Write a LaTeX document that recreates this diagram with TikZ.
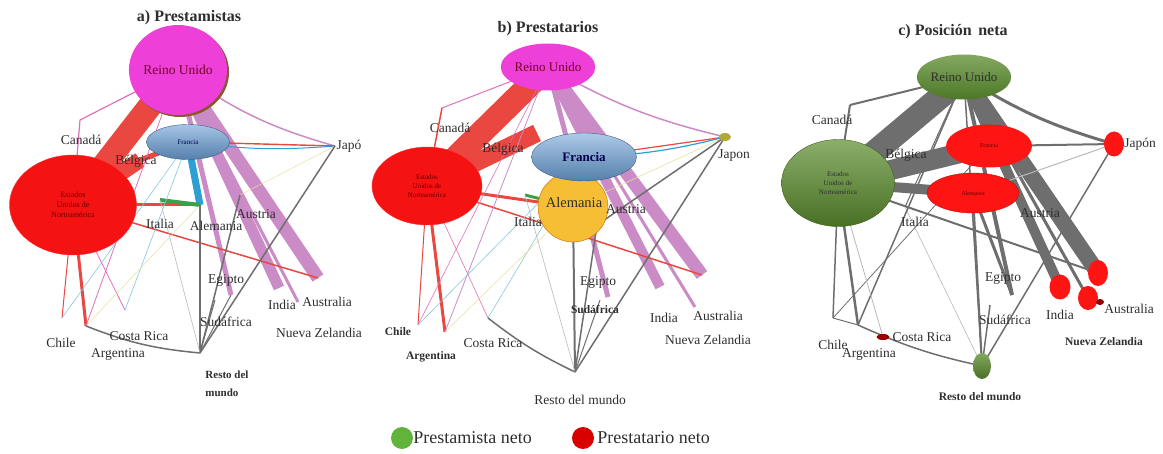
\documentclass[tikz,border=0pt]{standalone}
\usepackage{fontspec}
\setmainfont{Liberation Serif}
\usetikzlibrary{positioning,shapes.geometric,backgrounds,shadows}

\definecolor{ukmag}{HTML}{EE40D8}
\definecolor{usred}{HTML}{F41212}
\definecolor{frblue}{HTML}{6A9FD6}
\definecolor{deorange}{HTML}{F5BE35}
\definecolor{netgreen}{HTML}{5A8C2C}
\definecolor{netred}{HTML}{FF1414}
\definecolor{lred}{HTML}{E9473F}
\definecolor{mauve}{HTML}{CB8BC6}
\definecolor{lblue}{HTML}{2E9FD2}
\definecolor{lgray}{HTML}{6E6E6E}
\definecolor{pgray}{HTML}{B8B8B8}
\definecolor{lpink}{HTML}{E070B8}
\definecolor{lcyan}{HTML}{84C8E2}
\definecolor{lyel}{HTML}{E6DE9C}
\definecolor{lgreen}{HTML}{3BA04A}
\definecolor{txt}{HTML}{2E2E2E}

\begin{document}
\begin{tikzpicture}[x=1pt, y=-1pt, line cap=round]
  \tikzset{
    country/.style={ellipse, inner sep=0pt, align=center},
    lbl/.style={font=\fontsize{13.5}{14}\selectfont, text=txt, inner sep=1pt},
    blbl/.style={font=\bfseries\fontsize{11.5}{12}\selectfont, text=txt, inner sep=1pt},
    ttl/.style={font=\bfseries\fontsize{16}{16}\selectfont, text=txt},
    small/.style={font=\fontsize{7}{7.5}\selectfont}
  }
  \useasboundingbox (0,0) rectangle (1163,454);

  % a) Prestamistas
  \node[ttl] (aT) at (189,18) {a) Prestamistas};
  \node[country, fill=ukmag, minimum size=90pt,
        drop shadow={fill=brown!70!black, shadow xshift=2pt, shadow yshift=-2pt, opacity=1},
        font=\fontsize{13.5}{13.5}\selectfont, text=purple!60!black] (aUK) at (178,70) {Reino Unido};
  \node[country, top color=frblue!60!white, bottom color=frblue!80!black, draw=frblue!60!black,
        minimum width=83pt, minimum height=35pt, small, text=blue!30!black] (aFR) at (188,142) {Francia};
  \node[country, fill=usred, draw=red!80!white, minimum width=127pt, minimum height=100pt,
        font=\fontsize{8}{10}\selectfont, text=red!40!black] (aUS) at (73,205) {Estados\\Unidos de\\Norteamérica};
  \coordinate (aCA) at (80,120);
  \coordinate (aBE) at (140,160);
  \coordinate (aJP) at (335,146);
  \coordinate (aIT) at (160,200);
  \coordinate (aDE) at (200,205);
  \coordinate (aAT) at (240,195);
  \coordinate (aEG) at (231,295);
  \coordinate (aIN) at (279,288);
  \coordinate (aAU) at (318,278);
  \coordinate (aNZ) at (298,302);
  \coordinate (aZA) at (215,300);
  \coordinate (aCL) at (62,318);
  \coordinate (aAR) at (86,326);
  \coordinate (aCR) at (125,310);
  \coordinate (aRW) at (200,353);
  \node[lbl] (aCAl) at (81,140) {Canadá};
  \node[lbl] (aBEl) at (136,161) {Bélgica};
  \node[lbl] (aJPl) at (349,146) {Japó};
  \node[lbl] (aITl) at (160,224) {Italia};
  \node[lbl] (aDEl) at (216,226) {Alemania};
  \node[lbl] (aATl) at (256,214) {Austria};
  \node[lbl] (aEGl) at (226,280) {Egipto};
  \node[lbl] (aINl) at (282,305) {India};
  \node[lbl] (aAUl) at (327,302) {Australia};
  \node[lbl] (aZAl) at (226,322) {Sudáfrica};
  \node[lbl] (aNZl) at (319,333) {Nueva Zelandia};
  \node[lbl] (aCLl) at (61,343) {Chile};
  \node[lbl] (aCRl) at (139,336) {Costa Rica};
  \node[lbl] (aARl) at (118,354) {Argentina};
  \node[lbl, align=left, font=\bfseries\fontsize{11}{18}\selectfont] (aRWl) at (227,384) {Resto del\\mundo};

  % b) Prestatarios
  \node[ttl] (bT) at (548,29) {b) Prestatarios};
  \node[country, fill=ukmag, minimum width=82pt, minimum height=47pt,
        font=\fontsize{13}{13}\selectfont, text=purple!60!black] (bUK) at (548,67) {Reino Unido};
  \node[country, fill=deorange, draw=orange!80!black, minimum size=70pt,
        font=\fontsize{14}{14}\selectfont, text=txt] (bDE) at (573,207) {};
  \node[country, top color=frblue!55!white, bottom color=frblue!80!black, draw=frblue!60!black,
        minimum width=105pt, minimum height=48pt, font=\bfseries\fontsize{13}{13}\selectfont,
        text=blue!30!black] (bFR) at (584,157) {Francia};
  \node[country, fill=usred, draw=red!80!white, minimum width=110pt, minimum height=78pt,
        font=\fontsize{7}{9}\selectfont, text=red!40!black] (bUS) at (427,186) {Estados\\Unidos de\\Norteamérica};
  \node[country, fill=olive!70!white, minimum width=12pt, minimum height=8pt] (bJP) at (725,137) {};
  \coordinate (bCA) at (442,108);
  \coordinate (bBE) at (537,133);
  \coordinate (bIT) at (525,195);
  \coordinate (bAT) at (597,225);
  \coordinate (bEG) at (608,297);
  \coordinate (bIN) at (660,287);
  \coordinate (bAU) at (702,275);
  \coordinate (bNZ) at (695,307);
  \coordinate (bZA) at (600,300);
  \coordinate (bCL) at (418,325);
  \coordinate (bAR) at (445,332);
  \coordinate (bCR) at (488,318);
  \coordinate (bRW) at (575,372);
  \node[lbl] (bCAl) at (450,128) {Canadá};
  \node[lbl] (bBEl) at (503,149) {Bélgica};
  \node[lbl, font=\fontsize{14.5}{15}\selectfont] (bDEl) at (574,203) {Alemania};
  \node[lbl] (bJPl) at (734,156) {Japon};
  \node[lbl] (bITl) at (528,222) {Italia};
  \node[lbl] (bATl) at (626,209) {Austria};
  \node[lbl] (bEGl) at (598,282) {Egipto};
  \node[blbl] (bZAl) at (595,310) {Sudáfrica};
  \node[lbl] (bINl) at (664,318) {India};
  \node[lbl] (bAUl) at (718,316) {Australia};
  \node[lbl] (bNZl) at (708,340) {Nueva Zelandia};
  \node[blbl] (bCLl) at (398,332) {Chile};
  \node[lbl] (bCRl) at (493,343) {Costa Rica};
  \node[blbl] (bARl) at (431,357) {Argentina};
  \node[lbl] (bRWl) at (580,400) {Resto del mundo};

  % c) Posicion neta
  \node[ttl] (cT) at (953,32) {c) Posición\, neta};
  \node[country, top color=netgreen!75!white, bottom color=netgreen!85!black, minimum width=85pt,
        minimum height=45pt, font=\fontsize{13}{13}\selectfont, text=txt] (cUK) at (964,77) {Reino Unido};
  \node[country, fill=netred, minimum width=86pt, minimum height=43pt, font=\fontsize{6}{6}\selectfont,
        text=red!40!black] (cFR) at (989,146) {Francia};
  \node[country, fill=netred, draw=netred!70!black, minimum width=92pt, minimum height=40pt,
        font=\fontsize{6}{6}\selectfont, text=red!40!black] (cDE) at (973,193) {Alemania};
  \node[country, top color=netgreen!70!white, bottom color=netgreen!80!black, draw=netgreen!70!black,
        minimum width=113pt, minimum height=87pt, font=\fontsize{7}{9}\selectfont, text=txt] (cUS) at (838,183) {Estados\\Unidos de\\Norteamérica};
  \node[country, fill=netred, minimum width=20pt, minimum height=25pt] (cJP) at (1114,144) {};
  \node[country, fill=netred, minimum width=21pt, minimum height=25pt] (cIN) at (1060,287) {};
  \node[country, fill=netred, minimum width=20pt, minimum height=26pt] (cAU) at (1098,273) {};
  \node[country, fill=netred, minimum width=20pt, minimum height=24pt] (cNZ) at (1088,298) {};
  \node[country, fill=red!55!black, minimum width=8pt, minimum height=6pt] (cAUs) at (1100,302) {};
  \node[country, fill=red!60!black, minimum width=13pt, minimum height=6pt] (cCR) at (883,337) {};
  \node[country, top color=netgreen!75!white, bottom color=netgreen!80!black, minimum width=18pt,
        minimum height=26pt] (cRW) at (982,366) {};
  \coordinate (cCA) at (850,105);
  \coordinate (cIT) at (905,207);
  \coordinate (cAT) at (1040,232);
  \coordinate (cEG) at (1012,295);
  \coordinate (cZA) at (990,305);
  \coordinate (cCL) at (833,318);
  \coordinate (cAR) at (858,325);
  \node[lbl] (cCAl) at (832,120) {Canadá};
  \node[lbl] (cBEl) at (906,155) {Bélgica};
  \node[lbl] (cJPl) at (1140,144) {Japón};
  \node[lbl] (cITl) at (915,222) {Italia};
  \node[lbl] (cATl) at (1040,213) {Austria};
  \node[lbl] (cEGl) at (1003,278) {Egipto};
  \node[lbl] (cZAl) at (1005,320) {Sudáfrica};
  \node[lbl] (cINl) at (1060,315) {India};
  \node[lbl] (cAUl) at (1129,309) {Australia};
  \node[blbl] (cNZl) at (1104,342) {Nueva Zelandia};
  \node[lbl] (cCLl) at (833,345) {Chile};
  \node[lbl] (cCRl) at (922,337) {Costa Rica};
  \node[lbl] (cARl) at (869,354) {Argentina};
  \node[blbl] (cRWl) at (980,397) {Resto del mundo};

  % leyenda
  \node[circle, fill=lgreen!80!yellow, minimum size=22pt, inner sep=0pt] (lgG) at (402,438) {};
  \node[right=0pt of lgG, font=\fontsize{18}{18}\selectfont, text=txt, inner sep=0pt] (lgGt) {Prestamista neto};
  \node[circle, fill=red!85!black, minimum size=22pt, inner sep=0pt] (lgR) at (583,438) {};
  \node[right=3pt of lgR, font=\fontsize{18}{18}\selectfont, text=txt, inner sep=0pt] (lgRt) {Prestatario neto};

  \begin{scope}[on background layer]
    \foreach \f/\t/\w/\c/\b in {
      aUS/aUK/24/lred/0, aUS/aBE/16/lred/0, aBE/aFR/5/lred/0,
      aUK/aAU/13/mauve/0, aUK/aIN/11/mauve/0, aUK/aEG/5/mauve/0, aUK/aNZ/3/mauve/0,
      aUK/aJP/1.5/mauve/-10, aUK/aCA/1.2/lpink/0, aCA/aUS/1.2/lpink/0,
      aFR/aDE/7/lblue/0, aUS/aDE/3/lred/0, aUS/aAU/1.5/lred/0,
      aFR/aJP/1.4/lred/0, aFR/aJP/1/lblue/-6, aIT/aDE/4/lgreen/0,
      aUS/aCL/1/lred/0, aUS/aAR/3/lred/0, aCL/aFR/0.6/lcyan/0, aAR/aUK/0.8/lpink/0,
      aCR/aUS/0.8/lpink/0, aCR/aFR/0.6/lcyan/0, aAR/aDE/0.5/lyel/0, aJP/aAT/0.5/lyel/0,
      aRW/aDE/2/lgray/0, aRW/aAT/1.5/lgray/0, aRW/aJP/1.5/lgray/0, aRW/aAR/1.5/lgray/8,
      aRW/aIT/0.6/pgray/0, aRW/aZA/1/lgray/0, aRW/aEG/1/lgray/0,
      bUS/bUK/24/lred/0, bUS/bBE/18/lred/0,
      bUK/bAU/13/mauve/0, bUK/bIN/10/mauve/0, bUK/bEG/5/mauve/0, bUK/bNZ/3/mauve/0,
      bUK/bJP/1.5/mauve/-8, bUK/bCA/1/lpink/0, bCA/bUS/1.5/lred/0,
      bUS/bDE/3/lred/0, bUS/bAU/1.5/lred/0, bFR/bJP/1.2/lred/0, bFR/bJP/1.2/lblue/-6,
      bDE/bJP/0.6/lyel/0, bIT/bDE/3/lgreen/0,
      bUS/bCL/1/lred/0, bUS/bAR/3/lred/0, bCL/bUK/0.6/lpink/0, bAR/bUK/0.8/mauve/0,
      bCR/bUS/0.6/lpink/0, bCR/bFR/0.6/lcyan/0, bCL/bFR/0.6/lcyan/0, bAR/bDE/0.5/lyel/0,
      bRW/bDE/2/lgray/0, bRW/bAT/1.5/lgray/0, bRW/bJP/1.5/lgray/0, bRW/bCR/1.5/lgray/6,
      bRW/bIT/0.6/pgray/0, bRW/bZA/1/lgray/0, bJP/bAT/1.5/lgray/0,
      cUS/cUK/24/lgray/0, cUS/cFR/20/lgray/0, cUK/cAU/16/lgray/0, cUK/cIN/10/lgray/0,
      cUK/cNZ/3/lgray/0, cUK/cJP/3/lgray/-8, cUK/cCA/2/lgray/0, cCA/cUS/2/lgray/0,
      cFR/cJP/2/lgray/0, cDE/cJP/1/pgray/0, cUS/cDE/10/lgray/0, cUS/cAU/2/lgray/0,
      cUK/cEG/4/lgray/0, cDE/cEG/3/lgray/0, cRW/cJP/1.5/lgray/0,
      cRW/cDE/2/lgray/0, cRW/cUK/1.5/lgray/0, cRW/cAR/1.5/lgray/6, cRW/cIT/0.6/pgray/0,
      cRW/cZA/1.5/lgray/0, cUS/cCL/1.5/lgray/0, cUS/cAR/2.5/lgray/0, cCL/cFR/0.8/lgray/0,
      cAR/cUK/1.5/lgray/0, cCR/cUS/0.8/pgray/0, cCL/cAR/1/lgray/0, cIT/cUK/1/lgray/0}
      \draw[line width=\w pt, draw=\c] (\f.center) to[bend left=\b] (\t.center);
  \end{scope}
\end{tikzpicture}
\end{document}
